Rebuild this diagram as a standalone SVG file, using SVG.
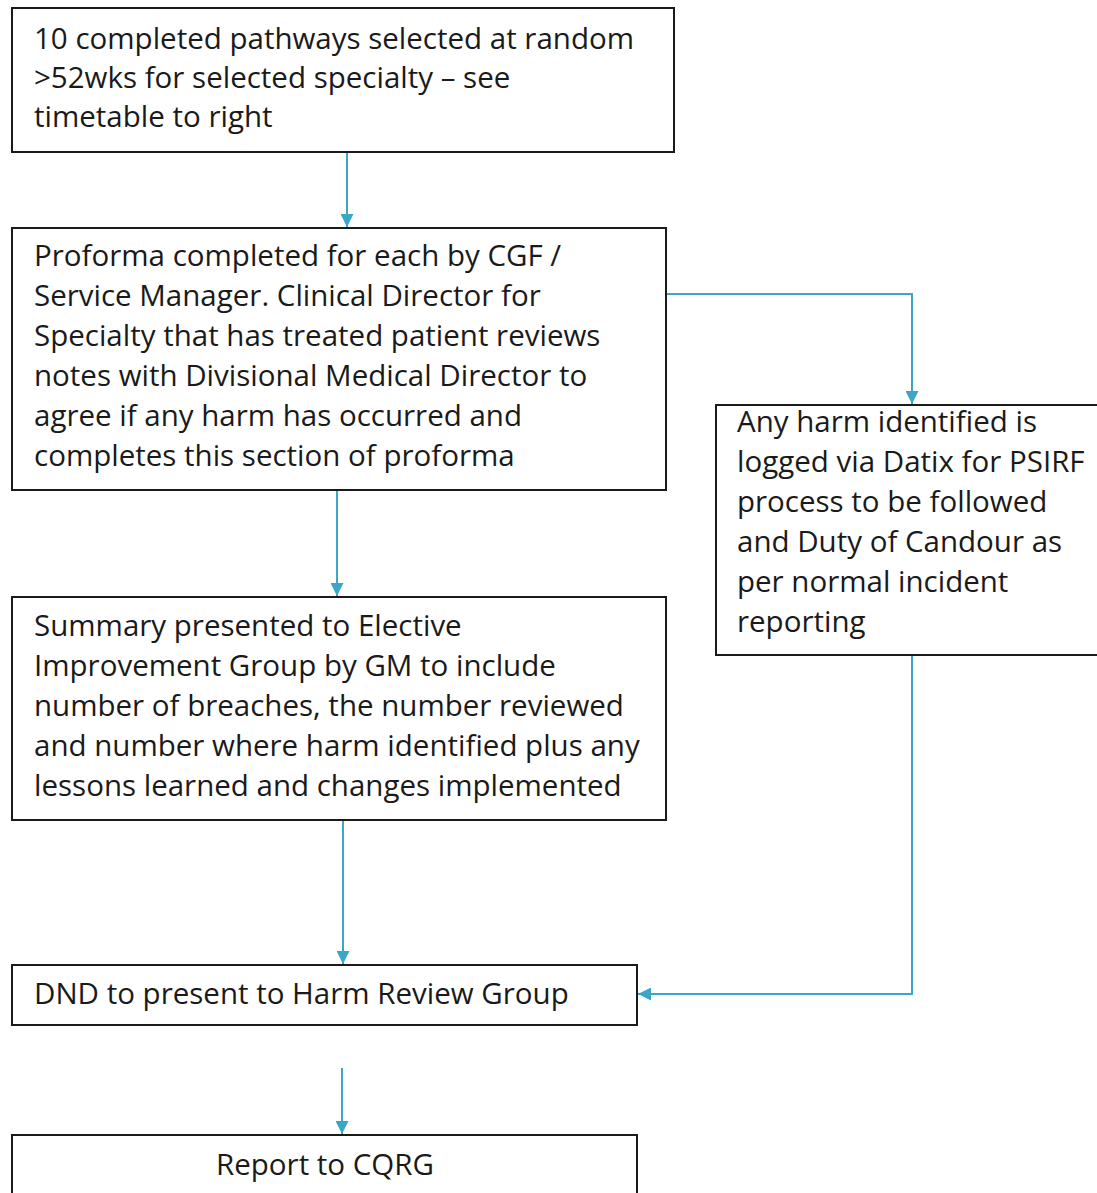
<svg xmlns="http://www.w3.org/2000/svg" width="1097" height="1193" viewBox="0 0 1097 1193">
<defs>
<style>
.box{fill:#fff;stroke:#1a1a1a;stroke-width:2}
.t{font-family:"Open Sans","Noto Sans",sans-serif;font-size:29.5px;fill:#1a1a1a}
.c{fill:none;stroke:#3aa6c8;stroke-width:2}
</style>
<marker id="ah" viewBox="0 0 10 10" refX="10" refY="5" markerWidth="13" markerHeight="13" markerUnits="userSpaceOnUse" orient="auto">
<path d="M0,0 L10,5 L0,10 z" fill="#3aa6c8"/>
</marker>
</defs>
<rect width="1097" height="1193" fill="#fff"/>
<g id="connectors">
<line class="c" x1="347" y1="152" x2="347" y2="227" marker-end="url(#ah)"/>
<polyline class="c" points="666,294 912,294 912,404" marker-end="url(#ah)"/>
<line class="c" x1="337" y1="490" x2="337" y2="596" marker-end="url(#ah)"/>
<line class="c" x1="343" y1="820" x2="343" y2="964" marker-end="url(#ah)"/>
<polyline class="c" points="912,655 912,994 638,994" marker-end="url(#ah)"/>
<line class="c" x1="342" y1="1068" x2="342" y2="1134" marker-end="url(#ah)"/>
</g>
<g id="n1">
<rect class="box" x="12" y="8" width="662" height="144"/>
<text class="t" x="34" y="49">10 completed pathways selected at random</text>
<text class="t" x="34" y="88">&gt;52wks for selected specialty – see</text>
<text class="t" x="34" y="127">timetable to right</text>
</g>
<g id="n2">
<rect class="box" x="12" y="228" width="654" height="262"/>
<text class="t" x="34" y="266">Proforma completed for each by CGF /</text>
<text class="t" x="34" y="306">Service Manager. Clinical Director for</text>
<text class="t" x="34" y="346">Specialty that has treated patient reviews</text>
<text class="t" x="34" y="386">notes with Divisional Medical Director to</text>
<text class="t" x="34" y="426">agree if any harm has occurred and</text>
<text class="t" x="34" y="466">completes this section of proforma</text>
</g>
<g id="n3">
<rect class="box" x="716" y="405" width="390" height="250"/>
<text class="t" x="737" y="432">Any harm identified is</text>
<text class="t" x="737" y="472">logged via Datix for PSIRF</text>
<text class="t" x="737" y="512">process to be followed</text>
<text class="t" x="737" y="552">and Duty of Candour as</text>
<text class="t" x="737" y="592">per normal incident</text>
<text class="t" x="737" y="632">reporting</text>
</g>
<g id="n4">
<rect class="box" x="12" y="597" width="654" height="223"/>
<text class="t" x="34" y="636">Summary presented to Elective</text>
<text class="t" x="34" y="676">Improvement Group by GM to include</text>
<text class="t" x="34" y="716">number of breaches, the number reviewed</text>
<text class="t" x="34" y="756">and number where harm identified plus any</text>
<text class="t" x="34" y="796">lessons learned and changes implemented</text>
</g>
<g id="n5">
<rect class="box" x="12" y="965" width="625" height="60"/>
<text class="t" x="34" y="1004">DND to present to Harm Review Group</text>
</g>
<g id="n6">
<rect class="box" x="12" y="1135" width="625" height="70"/>
<text class="t" x="325" y="1175" text-anchor="middle">Report to CQRG</text>
</g>
</svg>
